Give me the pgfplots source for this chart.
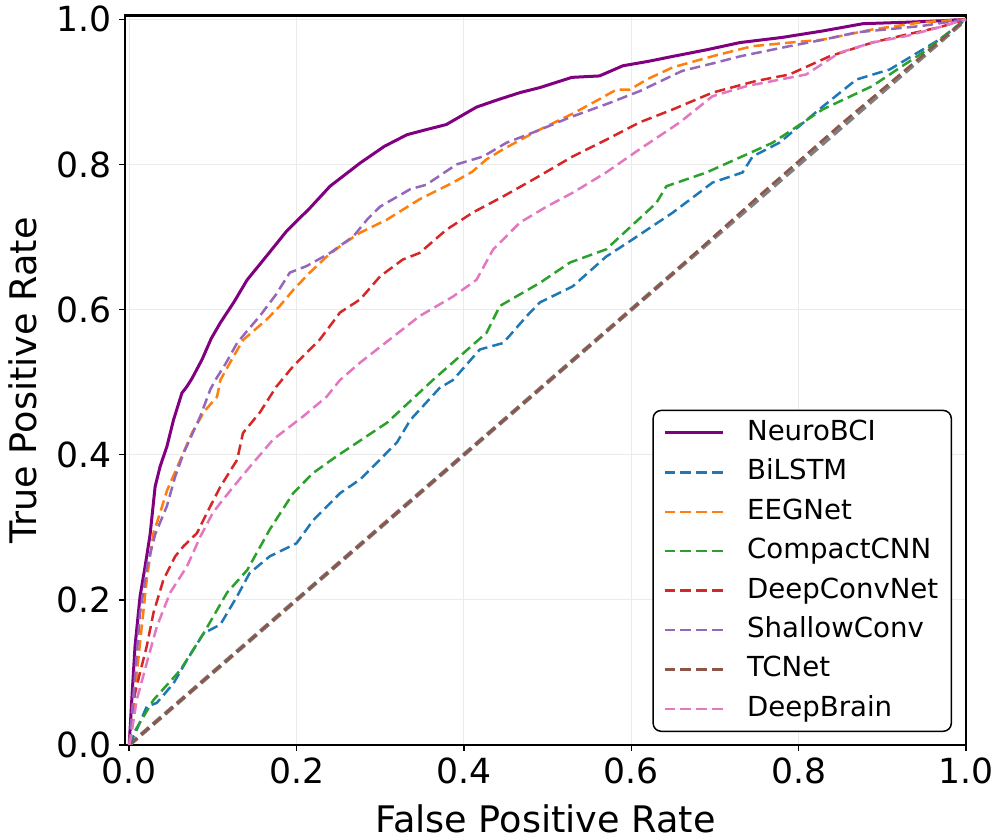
\documentclass[border=0pt]{standalone}
\usepackage{fontspec}
\setmainfont{DejaVu Sans}
\usepackage{pgfplots}
\pgfplotsset{compat=1.18}
\definecolor{cPurple}{HTML}{800080}
\definecolor{cBlue}{HTML}{1F77B4}
\definecolor{cOrange}{HTML}{FF7F0E}
\definecolor{cGreen}{HTML}{2CA02C}
\definecolor{cRed}{HTML}{D62728}
\definecolor{cViolet}{HTML}{9467BD}
\definecolor{cBrown}{HTML}{8C564B}
\definecolor{cPink}{HTML}{E377C2}
\definecolor{cGray}{HTML}{7F7F7F}
\definecolor{gridc}{HTML}{EBEBEB}
\begin{document}
\begin{tikzpicture}
\useasboundingbox (-62.5pt,-47.5pt) rectangle (438pt,372.5pt);
\begin{axis}[
  at={(0,0)}, anchor=south west,
  scale only axis, width=420.5pt, height=364.65pt,
  xmin=-0.005, xmax=1.0, ymin=0, ymax=1.005,
  xtick={0,0.2,0.4,0.6,0.8,1.0}, ytick={0,0.2,0.4,0.6,0.8,1.0},
  /pgf/number format/assume math mode=true,
  /pgf/number format/.cd, fixed, fixed zerofill, precision=1, /pgfplots/.cd,
  grid=major, major grid style={color=gridc, line width=0.5pt},
  axis line style={line width=1.4pt},
  tick align=outside, xtick pos=bottom, ytick pos=left,
  major tick length=3pt, tick style={black, line width=0.7pt},
  ticklabel style={font=\fontsize{17.3}{20}\selectfont},
  xlabel={False Positive Rate}, ylabel={True Positive Rate},
  label style={font=\fontsize{18.3}{22}\selectfont},
  xlabel style={at={(axis description cs:0.5,-0.1193)}, anchor=base},
  ylabel style={at={(axis description cs:-0.1058,0.5)}, anchor=base},
  legend style={at={(0.9834,0.0178)}, anchor=south east, draw=black, line width=0.75pt,
    rounded corners=4pt, font=\fontsize{13.8}{16}\selectfont,
    inner xsep=5pt, inner ysep=3pt, row sep=3.2pt,
    nodes={inner sep=1.5pt, text height=10.5pt, text depth=3pt},
    /tikz/every odd column/.append style={column sep=10pt}},
  legend cell align=left,
  legend image code/.code={\draw[#1] (0pt,0pt) -- (29pt,0pt);},
  dashs/.style={line width=1.25pt, dash pattern=on 5.3pt off 2.6pt},
]
% chance line (under TCNet)
\addplot[cGray, line width=2.1pt, dash pattern=on 5.3pt off 2.6pt, forget plot] coordinates {(0,0) (1,1)};
% NeuroBCI
\addplot[cPurple, line width=1.5pt, solid] coordinates {
(0,0) (0.004,0.08) (0.007,0.136) (0.013,0.205) (0.019,0.246) (0.025,0.29)
(0.031,0.356) (0.037,0.384) (0.045,0.411) (0.053,0.448) (0.063,0.485)
(0.069,0.494) (0.075,0.505) (0.087,0.531) (0.098,0.56) (0.109,0.582)
(0.125,0.61) (0.141,0.641) (0.165,0.675) (0.188,0.708) (0.216,0.74)
(0.240,0.770) (0.258,0.786) (0.276,0.802) (0.305,0.825) (0.332,0.841)
(0.355,0.848) (0.379,0.855) (0.415,0.879) (0.440,0.889) (0.467,0.899)
(0.491,0.906) (0.529,0.92) (0.562,0.922) (0.590,0.936) (0.620,0.942)
(0.650,0.949) (0.690,0.958) (0.730,0.968) (0.780,0.975) (0.829,0.984)
(0.877,0.994) (0.929,0.996) (0.97,0.998) (1.0,1.0)};
\addlegendentry{NeuroBCI}
% BiLSTM
\addplot[cBlue, dashs] coordinates {
(0,0) (0.009,0.021) (0.021,0.053) (0.033,0.058) (0.053,0.085) (0.069,0.117)
(0.089,0.154) (0.109,0.166) (0.129,0.205) (0.144,0.237) (0.168,0.260)
(0.200,0.278) (0.220,0.31) (0.252,0.347) (0.276,0.366) (0.296,0.389)
(0.320,0.417) (0.336,0.448) (0.371,0.492) (0.387,0.503) (0.419,0.545)
(0.447,0.554) (0.475,0.591) (0.491,0.610) (0.530,0.632) (0.570,0.673)
(0.602,0.697) (0.650,0.734) (0.697,0.775) (0.733,0.789) (0.745,0.811)
(0.777,0.830) (0.829,0.880) (0.869,0.917) (0.909,0.931) (0.968,0.972) (1,1)};
\addlegendentry{BiLSTM}
% EEGNet
\addplot[cOrange, dashs] coordinates {
(0,0) (0.005,0.05) (0.012,0.13) (0.021,0.228) (0.029,0.292) (0.037,0.32)
(0.045,0.35) (0.06,0.39) (0.075,0.43) (0.09,0.46) (0.105,0.48) (0.109,0.503)
(0.122,0.53) (0.136,0.558) (0.150,0.572) (0.164,0.586) (0.180,0.605)
(0.196,0.627) (0.215,0.65) (0.236,0.673) (0.255,0.69) (0.276,0.706)
(0.308,0.724) (0.347,0.752) (0.387,0.775) (0.410,0.79) (0.427,0.807)
(0.447,0.821) (0.487,0.846) (0.530,0.870) (0.562,0.89) (0.582,0.903)
(0.598,0.903) (0.620,0.918) (0.650,0.934) (0.700,0.95) (0.745,0.963)
(0.790,0.968) (0.829,0.972) (0.888,0.986) (0.948,0.996) (1,1)};
\addlegendentry{EEGNet}
% CompactCNN
\addplot[cGreen, dashs] coordinates {
(0,0) (0.002,0.01) (0.029,0.062) (0.061,0.103) (0.089,0.154) (0.117,0.21)
(0.141,0.241) (0.168,0.297) (0.196,0.347) (0.220,0.375) (0.248,0.398)
(0.308,0.444) (0.363,0.503) (0.427,0.568) (0.443,0.605) (0.491,0.637)
(0.527,0.665) (0.570,0.683) (0.630,0.747) (0.642,0.770) (0.690,0.789)
(0.769,0.830) (0.829,0.876) (0.888,0.908) (0.948,0.954) (1,1)};
\addlegendentry{CompactCNN}
% DeepConvNet
\addplot[cRed, dashs] coordinates {
(0,0) (0.005,0.062) (0.013,0.10) (0.021,0.136) (0.029,0.182) (0.041,0.228)
(0.055,0.26) (0.065,0.274) (0.081,0.292) (0.093,0.32) (0.109,0.356)
(0.129,0.393) (0.136,0.43) (0.156,0.458) (0.176,0.494) (0.196,0.522)
(0.228,0.559) (0.252,0.596) (0.276,0.614) (0.300,0.646) (0.327,0.669)
(0.347,0.678) (0.379,0.710) (0.411,0.734) (0.447,0.756) (0.487,0.782)
(0.530,0.811) (0.570,0.834) (0.610,0.858) (0.650,0.876) (0.697,0.899)
(0.749,0.915) (0.789,0.924) (0.837,0.949) (0.888,0.968) (0.929,0.979)
(0.968,0.989) (1,1)};
\addlegendentry{DeepConvNet}
% ShallowConv
\addplot[cViolet, dashs] coordinates {
(0,0) (0.005,0.066) (0.013,0.182) (0.022,0.25) (0.031,0.29) (0.045,0.329)
(0.055,0.37) (0.065,0.402) (0.085,0.453) (0.097,0.49) (0.103,0.503)
(0.115,0.525) (0.129,0.554) (0.142,0.572) (0.156,0.591) (0.175,0.62)
(0.192,0.651) (0.212,0.66) (0.240,0.678) (0.268,0.701) (0.285,0.725)
(0.300,0.742) (0.336,0.766) (0.355,0.772) (0.391,0.80) (0.423,0.811)
(0.451,0.830) (0.487,0.846) (0.527,0.865) (0.570,0.883) (0.610,0.901)
(0.661,0.929) (0.700,0.94) (0.730,0.949) (0.789,0.963) (0.830,0.972)
(0.869,0.982) (0.948,0.991) (1,1)};
\addlegendentry{ShallowConv}
% TCNet
\addplot[cBrown, dashs] coordinates {
(0,0) (0.65,0.65) (0.75,0.754) (0.85,0.855) (0.95,0.952) (1,1)};
\addlegendentry{TCNet}
% DeepBrain
\addplot[cPink, dashs] coordinates {
(0,0) (0.002,0.01) (0.009,0.062) (0.021,0.113) (0.033,0.163) (0.049,0.21)
(0.069,0.246) (0.085,0.287) (0.100,0.32) (0.112,0.338) (0.141,0.379)
(0.172,0.421) (0.208,0.453) (0.236,0.48) (0.252,0.503) (0.276,0.527)
(0.316,0.563) (0.347,0.591) (0.387,0.618) (0.415,0.641) (0.435,0.683)
(0.467,0.72) (0.499,0.742) (0.530,0.761) (0.570,0.789) (0.610,0.821)
(0.658,0.858) (0.697,0.894) (0.738,0.908) (0.809,0.924) (0.849,0.954)
(0.888,0.968) (0.929,0.977) (0.968,0.989) (1,1)};
\addlegendentry{DeepBrain}
\end{axis}
\end{tikzpicture}
\end{document}
